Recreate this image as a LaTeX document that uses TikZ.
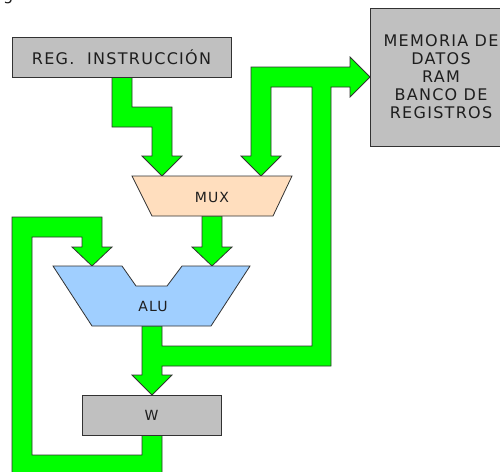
\documentclass[tikz,border=0pt]{standalone}
\usepackage{fontspec}
\setmainfont{DejaVu Sans}[LetterSpace=8]
\definecolor{flowgreen}{RGB}{0,255,0}
\definecolor{boxgray}{RGB}{192,192,192}
\definecolor{muxpeach}{RGB}{255,222,190}
\definecolor{alublue}{RGB}{160,207,255}
\definecolor{outline}{RGB}{50,50,50}
\definecolor{ink}{RGB}{30,30,30}
\begin{document}
\begin{tikzpicture}[x=1pt,y=-1pt,
  flow/.style={fill=flowgreen,draw=outline,line width=0.8pt,line join=miter},
  block/.style={fill=boxgray,draw=outline,line width=0.8pt,inner sep=0pt,
                text=ink,align=center},
  unit/.style={draw=outline,line width=0.8pt,line join=miter},
  big/.style={font=\fontsize{16}{18}\selectfont},
  small/.style={font=\fontsize{14}{16}\selectfont,text=ink,inner sep=0pt}]
\clip (0,0) rectangle (500,471);
\fill[white] (0,0) rectangle (500,471);

% stray caption letter at the top edge
\node[anchor=base west,inner sep=0pt,text=ink,big] (cap) at (3,0.5) {g};

% ---- green data paths (drawn first, blocks sit on top) ----
% instruction register -> MUX
\draw[flow] (112,77) -- (112,127) -- (152,127) -- (152,156) -- (142,156)
  -- (162,176) -- (182,156) -- (172,156) -- (172,107) -- (132,107)
  -- (132,77) -- cycle;
% ALU result -> W, -> memory, -> MUX
\draw[flow] (142,326) -- (142,375) -- (132,375) -- (152,395) -- (172,375)
  -- (162,375) -- (162,366) -- (331,366) -- (331,87) -- (350,87)
  -- (350,97) -- (370,77) -- (350,57) -- (350,67) -- (251,67)
  -- (251,156) -- (241,156) -- (261,176) -- (281,156) -- (271,156)
  -- (271,87) -- (312,87) -- (312,346) -- (162,346) -- (162,326) -- cycle;
% MUX -> ALU
\draw[flow] (202,216) -- (202,247) -- (192,247) -- (212,266) -- (232,247)
  -- (222,247) -- (222,216) -- cycle;
% W -> ALU feedback loop
\draw[flow] (142,435) -- (142,455) -- (32,455) -- (32,237) -- (82,237)
  -- (82,247) -- (72,247) -- (92,266) -- (112,247) -- (102,247)
  -- (102,217) -- (12,217) -- (12,478) -- (162,478) -- (162,435) -- cycle;

% ---- blocks ----
\node[block,big,minimum width=219pt,minimum height=40pt] (reg) at (121.5,57)
  {REG.\ \ INSTRUCCIÓN};
\node[block,big,minimum width=142pt,minimum height=138pt] (mem) at (441,77)
  {MEMORIA DE\\DATOS\\RAM\\BANCO DE\\REGISTROS};
\node[block,small,minimum width=139pt,minimum height=40pt] (w) at (151.5,415) {W};

% multiplexer
\draw[unit,fill=muxpeach] (132,176) -- (292,176) -- (273,216) -- (152,216) -- cycle;
\node[small] (mux) at (212,197) {MUX};

% arithmetic logic unit
\draw[unit,fill=alublue] (53,266) -- (122,266) -- (136,286) -- (167,286)
  -- (182,266) -- (250,266) -- (211,326) -- (92,326) -- cycle;
\node[small] (alu) at (153,306) {ALU};
\end{tikzpicture}
\end{document}
